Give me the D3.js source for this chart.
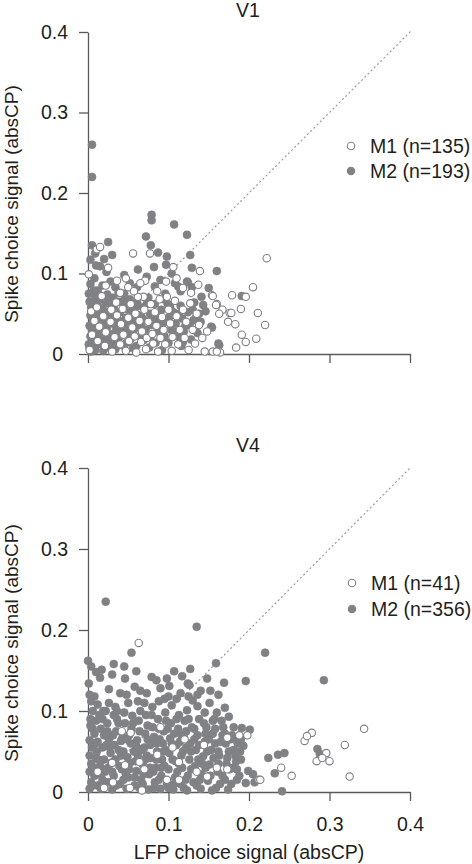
<!DOCTYPE html>
<html>
<head>
<meta charset="utf-8">
<script src="https://cdn.jsdelivr.net/npm/d3@7"></script>
<style>
  html, body { margin: 0; padding: 0; background: #fff; }
  svg { display: block; font-family: "Liberation Sans", Arial, Helvetica, sans-serif; }
</style>
</head>
<body>
<svg id="chart" width="472" height="864"></svg>
<script>
// ---------- DATA ----------
const panels = ["V1", "V4"];
const seriesNames = ["M1", "M2"];
const legendV1 = ["M1 (n=135)", "M2 (n=193)"];
const legendV4 = ["M1 (n=41)", "M2 (n=356)"];
const tickValues = [0, 0.1, 0.2, 0.3, 0.4];
const tickLabels = ["0", "0.1", "0.2", "0.3", "0.4"];
const xLabel = "LFP choice signal (absCP)";
const yLabel = "Spike choice signal (absCP)";

// V1, monkey M2 (filled) [LFP absCP, spike absCP]
const v1M2 = [
[0.005,0.26],[0.005,0.22],[0.079,0.173],[0.079,0.166],[0.107,0.161],[0.123,0.148],[0.072,0.146],[0.025,0.139],[0.005,0.135],[0.078,0.135],
[0.087,0.126],[0.098,0.121],[0.127,0.123],[0.03,0.123],[0.009,0.125],[0.003,0.117],[0.015,0.109],[0.082,0.108],[0.097,0.111],[0.129,0.107],
[0.16,0.103],[0.062,0.105],[0.023,0.102],[0.073,0.096],[0.108,0.088],[0.123,0.09],[0.129,0.083],[0.061,0.083],[0.083,0.084],[0.034,0.083],
[0.012,0.079],[0.141,0.071],[0.143,0.061],[0.153,0.034],[0.162,0.013],[0.191,0.072],[0.163,0.011],[0.112,0.084],[0.096,0.075],[0.124,0.089],[0.154,0.033],
[0.002,0.065],[0.004,0.058],[0.003,0.048],[0.006,0.040],[0.002,0.035],[0.005,0.030],[0.003,0.022],[0.006,0.015],[0.002,0.008],[0.004,0.003],
[0.009,0.070],[0.011,0.062],[0.010,0.052],[0.012,0.044],[0.009,0.037],[0.013,0.028],[0.010,0.020],[0.012,0.012],[0.009,0.005],[0.016,0.068],
[0.018,0.057],[0.017,0.047],[0.019,0.038],[0.016,0.031],[0.018,0.022],[0.016,0.013],[0.019,0.004],[0.024,0.074],[0.025,0.063],[0.023,0.052],
[0.026,0.042],[0.024,0.034],[0.027,0.025],[0.023,0.016],[0.026,0.008],[0.031,0.070],[0.032,0.058],[0.030,0.046],[0.033,0.037],[0.031,0.018],
[0.034,0.006],[0.038,0.065],[0.040,0.052],[0.037,0.043],[0.041,0.030],[0.039,0.021],[0.042,0.011],[0.045,0.060],[0.047,0.045],[0.046,0.035],
[0.049,0.026],[0.048,0.014],[0.052,0.068],[0.055,0.053],[0.054,0.040],[0.057,0.030],[0.053,0.019],[0.056,0.007],[0.061,0.064],[0.063,0.048],
[0.062,0.036],[0.065,0.022],[0.060,0.010],[0.068,0.058],[0.070,0.042],[0.072,0.030],[0.069,0.017],[0.075,0.070],[0.077,0.050],[0.079,0.036],
[0.076,0.008],[0.083,0.062],[0.085,0.044],[0.086,0.028],[0.084,0.014],[0.091,0.055],[0.093,0.038],[0.095,0.022],[0.092,0.005],[0.099,0.062],
[0.101,0.046],[0.103,0.030],[0.100,0.014],[0.106,0.052],[0.109,0.038],[0.111,0.022],[0.115,0.060],[0.117,0.044],[0.119,0.028],[0.116,0.010],
[0.124,0.052],[0.126,0.036],[0.128,0.018],[0.132,0.064],[0.134,0.045],[0.136,0.026],[0.140,0.040],[0.003,0.087],[0.008,0.094],[0.018,0.085],
[0.007,0.079],[0.045,0.098],[0.052,0.088],[0.038,0.076],[0.090,0.092],[0.104,0.100],[0.115,0.078],[0.146,0.053],[0.150,0.082],[0.010,0.110],
[0.020,0.118],[0.045,0.075],[0.028,0.090],
[0.001,0.012],[0.007,0.025],[0.014,0.05],[0.021,0.066],[0.028,0.012],[0.035,0.03],[0.043,0.04],[0.050,0.055],[0.058,0.045],[0.066,0.035],
[0.073,0.062],[0.080,0.045],[0.088,0.035],[0.094,0.068],[0.098,0.04],[0.107,0.028],[0.113,0.05],[0.121,0.035],[0.130,0.055],[0.138,0.05],
[0.001,0.075],[0.006,0.052],[0.013,0.072],[0.020,0.030],[0.027,0.050],[0.036,0.015],[0.044,0.066],[0.051,0.030],[0.059,0.058],[0.067,0.045],
[0.078,0.022],[0.089,0.05],[0.102,0.058],[0.118,0.015],[0.131,0.042]
];

// V1, monkey M1 (open)
const v1M1 = [
[0.077,0.125],[0.056,0.125],[0.106,0.108],[0.139,0.103],[0.097,0.09],[0.137,0.086],[0.001,0.099],[0.011,0.13],[0.015,0.133],[0.025,0.107],
[0.047,0.094],[0.036,0.091],[0.071,0.091],[0.05,0.083],[0.04,0.076],[0.069,0.071],[0.098,0.071],[0.154,0.073],[0.16,0.062],[0.179,0.073],
[0.176,0.051],[0.222,0.119],[0.205,0.083],[0.196,0.071],[0.155,0.072],[0.159,0.061],[0.167,0.055],[0.163,0.05],[0.178,0.051],[0.19,0.056],
[0.211,0.051],[0.174,0.04],[0.183,0.037],[0.22,0.036],[0.191,0.024],[0.196,0.015],[0.209,0.019],[0.184,0.008],[0.155,0.003],[0.164,0.002],[0.16,0.003],
[0.002,0.005],[0.005,0.024],[0.008,0.041],[0.004,0.053],[0.012,0.016],[0.014,0.034],[0.011,0.058],[0.019,0.047],[0.021,0.010],[0.022,0.027],
[0.017,0.072],[0.028,0.040],[0.029,0.055],[0.030,0.003],[0.033,0.021],[0.035,0.064],[0.036,0.048],[0.040,0.012],[0.041,0.037],[0.043,0.056],
[0.044,0.024],[0.047,0.004],[0.050,0.045],[0.051,0.016],[0.053,0.062],[0.055,0.033],[0.058,0.022],[0.059,0.050],[0.060,0.002],[0.062,0.071],
[0.064,0.041],[0.066,0.015],[0.067,0.028],[0.070,0.055],[0.072,0.006],[0.073,0.020],[0.075,0.040],[0.078,0.062],[0.080,0.025],[0.081,0.013],
[0.083,0.052],[0.085,0.035],[0.087,0.003],[0.089,0.068],[0.090,0.020],[0.092,0.046],[0.094,0.030],[0.096,0.012],[0.100,0.055],[0.102,0.038],
[0.104,0.004],[0.105,0.021],[0.108,0.066],[0.110,0.047],[0.112,0.012],[0.114,0.030],[0.118,0.055],[0.120,0.020],[0.122,0.040],[0.125,0.005],
[0.127,0.063],[0.130,0.030],[0.133,0.013],[0.135,0.050],[0.138,0.036],[0.142,0.020],[0.145,0.003],[0.148,0.028],[0.065,0.088],[0.086,0.078],
[0.118,0.082],[0.022,0.085],[0.057,0.078],[0.110,0.094],[0.128,0.076]
];

// V4, monkey M2 (filled)
const v4M2 = [
[0.022,0.235],[0.135,0.204],[0.054,0.172],[0.0,0.162],[0.159,0.159],[0.017,0.151],[0.032,0.158],[0.06,0.149],[0.107,0.149],[0.127,0.152],
[0.117,0.143],[0.015,0.141],[0.046,0.14],[0.079,0.142],[0.001,0.134],[0.058,0.13],[0.124,0.134],[0.169,0.135],[0.026,0.127],[0.136,0.12],
[0.101,0.131],[0.04,0.122],[0.073,0.122],[0.162,0.12],[0.08,0.105],[0.104,0.107],[0.151,0.11],[0.036,0.1],[0.17,0.104],[0.22,0.172],
[0.196,0.137],[0.293,0.138],[0.191,0.079],[0.201,0.077],[0.186,0.06],[0.193,0.057],[0.224,0.042],[0.236,0.046],[0.244,0.048],[0.285,0.053],
[0.288,0.047],[0.199,0.026],[0.205,0.022],[0.232,0.023],[0.196,0.011],[0.207,0.012],[0.241,0.001],[0.185,0.015],[0.175,0.093],[0.181,0.08],
[0.167,0.07],[0.179,0.07],[0.123,0.101],[0.136,0.106],[0.126,0.132],
[0.002,0.12],[0.004,0.112],[0.008,0.118],[0.012,0.108],[0.006,0.1],[0.014,0.095],[0.01,0.088],[0.018,0.09],[0.003,0.082],[0.016,0.078],
[0.008,0.072],[0.02,0.07],[0.002,0.064],[0.012,0.062],[0.005,0.055],[0.018,0.055],[0.002,0.045],[0.01,0.042],[0.004,0.035],[0.015,0.032],
[0.002,0.025],[0.008,0.02],[0.004,0.012],[0.012,0.008],[0.002,0.004],[0.018,0.015],[0.014,0.022],[0.02,0.04],[0.022,0.1],[0.024,0.085],
[0.026,0.065],[0.028,0.048],[0.025,0.03],[0.026,0.012],[0.03,0.003],[0.032,0.02],[0.034,0.04],[0.033,0.058],[0.035,0.075],[0.036,0.09],
[0.04,0.01],[0.042,0.028],[0.044,0.05],[0.043,0.068],[0.046,0.085],[0.045,0.098],[0.048,0.004],[0.05,0.018],[0.052,0.036],[0.053,0.06],
[0.054,0.078],[0.055,0.094],[0.058,0.008],[0.06,0.026],[0.062,0.045],[0.061,0.064],[0.063,0.088],[0.065,0.1],[0.066,0.015],[0.068,0.034],
[0.07,0.055],[0.071,0.072],[0.072,0.095],[0.075,0.003],[0.076,0.022],[0.078,0.042],[0.079,0.063],[0.08,0.08],[0.083,0.012],[0.084,0.03],
[0.086,0.05],[0.087,0.09],[0.09,0.004],[0.091,0.02],[0.092,0.04],[0.093,0.06],[0.094,0.075],[0.096,0.098],[0.098,0.01],[0.1,0.028],
[0.101,0.048],[0.102,0.066],[0.103,0.085],[0.106,0.003],[0.108,0.018],[0.109,0.038],[0.11,0.058],[0.112,0.078],[0.113,0.095],[0.115,0.01],
[0.117,0.03],[0.118,0.05],[0.119,0.068],[0.12,0.088],[0.123,0.002],[0.124,0.02],[0.126,0.04],[0.127,0.06],[0.129,0.08],[0.131,0.012],
[0.133,0.032],[0.134,0.052],[0.136,0.07],[0.138,0.09],[0.14,0.004],[0.141,0.022],[0.143,0.044],[0.145,0.062],[0.147,0.08],[0.149,0.014],
[0.151,0.034],[0.153,0.052],[0.155,0.072],[0.157,0.09],[0.159,0.005],[0.161,0.025],[0.163,0.045],[0.165,0.062],[0.168,0.08],[0.17,0.015],
[0.172,0.035],[0.175,0.05],[0.178,0.01],[0.18,0.03],[0.183,0.045],[0.188,0.02],[0.19,0.04],
[0.007,0.03],[0.011,0.05],[0.016,0.004],[0.021,0.025],[0.023,0.058],[0.029,0.036],[0.031,0.07],[0.038,0.052],[0.039,0.032],[0.041,0.063],
[0.047,0.022],[0.049,0.043],[0.051,0.07],[0.057,0.05],[0.059,0.038],[0.064,0.005],[0.067,0.052],[0.069,0.022],[0.073,0.045],[0.074,0.082],
[0.077,0.058],[0.081,0.025],[0.082,0.068],[0.085,0.04],[0.088,0.015],[0.089,0.065],[0.095,0.032],[0.097,0.052],[0.099,0.078],[0.105,0.04],
[0.107,0.072],[0.111,0.025],[0.114,0.062],[0.116,0.045],[0.121,0.015],[0.122,0.075],[0.128,0.05],[0.132,0.065],[0.137,0.04],[0.139,0.015],
[0.144,0.085],[0.146,0.03],[0.15,0.065],[0.154,0.002],[0.156,0.042],[0.158,0.078],[0.162,0.05],[0.164,0.01],[0.166,0.088],[0.171,0.06],
[0.174,0.003],[0.176,0.028],[0.182,0.065],[0.184,0.038],[0.189,0.05],[0.026,0.11],[0.034,0.105],[0.05,0.11],[0.062,0.112],[0.088,0.112],
[0.095,0.115],[0.11,0.115],[0.13,0.113],[0.145,0.098],[0.16,0.098],[0.03,0.145],[0.065,0.125],[0.09,0.128],[0.115,0.122],[0.14,0.125],
[0.148,0.14],[0.01,0.148],[0.004,0.155],[0.045,0.155],[0.085,0.138],[0.098,0.14],
[0.003,0.09],[0.006,0.078],[0.009,0.06],[0.013,0.04],[0.017,0.028],[0.022,0.012],[0.006,0.008],[0.019,0.1],[0.024,0.075],[0.027,0.055],
[0.03,0.025],[0.035,0.008],[0.038,0.085],[0.041,0.045],[0.044,0.015],[0.048,0.065],[0.051,0.028],[0.056,0.085],[0.058,0.018],[0.061,0.055],
[0.064,0.075],[0.068,0.01],[0.071,0.04],[0.074,0.065],[0.077,0.03],[0.079,0.095],[0.082,0.005],[0.085,0.06],[0.088,0.078],[0.091,0.03],
[0.094,0.05],[0.097,0.088],[0.1,0.005],[0.104,0.06],[0.107,0.01],[0.11,0.09],[0.113,0.035],[0.116,0.07],[0.119,0.005],[0.122,0.055],
[0.125,0.09],[0.128,0.028],[0.132,0.078],[0.135,0.008],[0.138,0.058],[0.142,0.035],[0.146,0.072],[0.148,0.05],[0.152,0.02],[0.155,0.088],
[0.158,0.06],[0.162,0.035],[0.167,0.02],[0.17,0.072],[0.173,0.042],[0.177,0.065],[0.181,0.052],[0.185,0.028],[0.19,0.065],[0.032,0.095],
[0.048,0.12],[0.07,0.11],[0.1,0.118],[0.125,0.118],[0.152,0.125]
];

// V4, monkey M1 (open)
const v4M1 = [
[0.063,0.184],[0.343,0.078],[0.278,0.073],[0.269,0.063],[0.272,0.069],[0.319,0.058],[0.296,0.048],[0.284,0.038],[0.291,0.042],[0.3,0.038],
[0.325,0.019],[0.253,0.02],[0.24,0.03],[0.212,0.015],[0.198,0.07],[0.173,0.028],[0.214,0.015],[0.173,0.067],[0.042,0.075],[0.053,0.073],
[0.064,0.037],[0.03,0.036],[0.012,0.025],[0.031,0.012],[0.046,0.033],[0.067,0.002],[0.052,0.005],[0.113,0.037],[0.086,0.046],[0.144,0.058],
[0.098,0.015],[0.113,0.015],[0.148,0.019],[0.07,0.028],[0.09,0.08],[0.12,0.065],[0.16,0.03],[0.188,0.07],[0.02,0.005],[0.135,0.025],[0.105,0.055]
];

// ---------- DRAWING ----------
const svg = d3.select("#chart");
const grey = "#808184";
const axisCol = "#5a5a5a";
const textCol = "#231f20";

const layout = [
  { name: panels[0], m1: v1M1, m2: v1M2, legend: legendV1, top: 32, bottom: 354, titleY: 17, labelY: 204, legY: 146, legGap: 25, legX: 351, showX: false },
  { name: panels[1], m1: v4M1, m2: v4M2, legend: legendV4, top: 468, bottom: 792, titleY: 452, labelY: 643, legY: 583, legGap: 26, legX: 352, showX: true }
];

layout.forEach(p => {
  const x = d3.scaleLinear().domain([0, 0.4]).range([88, 410]);
  const y = d3.scaleLinear().domain([0, 0.4]).range([p.bottom, p.top]);
  const g = svg.append("g");

  // diagonal (unity) line
  g.append("line")
    .attr("x1", x(0)).attr("y1", y(0)).attr("x2", x(0.4)).attr("y2", y(0.4))
    .attr("stroke", "#9a9a9a").attr("stroke-width", 1.2)
    .attr("stroke-dasharray", "1,3.5").attr("stroke-linecap", "round");

  // axes
  const yAxis = d3.axisLeft(y).tickValues(tickValues)
    .tickFormat((d, i) => tickLabels[i]).tickSize(9).tickSizeOuter(0).tickPadding(11);
  const xAxis = d3.axisBottom(x).tickValues(tickValues)
    .tickFormat((d, i) => p.showX ? tickLabels[i] : "").tickSize(9).tickSizeOuter(0).tickPadding(16);

  const ya = g.append("g").attr("transform", `translate(${x(0)},0)`).call(yAxis);
  const xa = g.append("g").attr("transform", `translate(0,${y(0)})`).call(xAxis);
  [ya, xa].forEach(a => {
    a.select(".domain").attr("stroke", axisCol).attr("stroke-width", 1.3);
    a.selectAll(".tick line").attr("stroke", axisCol).attr("stroke-width", 1.3);
    a.selectAll(".tick text").attr("fill", textCol).attr("font-size", 19.5)
      .attr("font-family", "Liberation Sans, Arial, sans-serif");
  });
  ya.selectAll(".tick text").filter((d, i) => i === 0).attr("dx", -5);

  // points: M2 filled, then M1 open
  g.append("g").selectAll("circle").data(p.m2).join("circle")
    .attr("cx", d => x(d[0])).attr("cy", d => y(d[1])).attr("r", 4)
    .attr("fill", grey).attr("stroke", grey).attr("stroke-width", 0.6);
  g.append("g").selectAll("circle").data(p.m1).join("circle")
    .attr("cx", d => x(d[0])).attr("cy", d => y(d[1])).attr("r", 3.7)
    .attr("fill", "#fff").attr("stroke", grey).attr("stroke-width", 1.1);

  // title
  g.append("text").attr("x", 248).attr("y", p.titleY).attr("text-anchor", "middle")
    .attr("font-size", 19.5).attr("fill", textCol).text(p.name);

  // y label
  g.append("text").attr("transform", `translate(18,${p.labelY}) rotate(-90)`)
    .attr("text-anchor", "middle").attr("font-size", 19).attr("fill", textCol).text(yLabel);

  // legend
  p.legend.forEach((t, i) => {
    const cy = p.legY + i * p.legGap;
    g.append("circle").attr("cx", p.legX).attr("cy", cy).attr("r", 3.7)
      .attr("fill", i === 0 ? "#fff" : grey).attr("stroke", grey).attr("stroke-width", 1.1);
    g.append("text").attr("x", p.legX + 19).attr("y", cy + 7)
      .attr("font-size", 19.5).attr("fill", textCol).text(t);
  });
});

// x label
svg.append("text").attr("x", 249).attr("y", 859).attr("text-anchor", "middle")
  .attr("font-size", 19.5).attr("fill", textCol).text(xLabel);
</script>
</body>
</html>
